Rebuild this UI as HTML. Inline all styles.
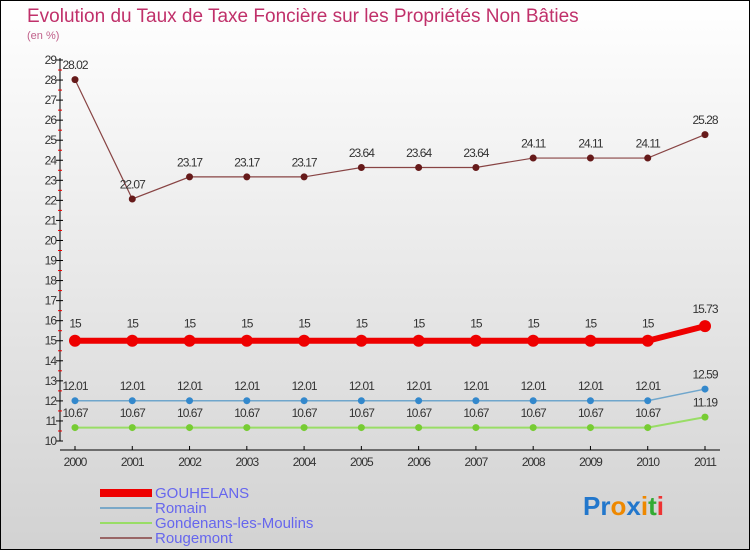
<!DOCTYPE html>
<html><head><meta charset="utf-8"><style>
body{margin:0}
#c{width:750px;height:550px;position:relative;box-sizing:border-box;border:1px solid #000;background:linear-gradient(#ffffff,#d2d2d2);font-family:"Liberation Sans",sans-serif;overflow:hidden}
</style></head><body>
<div id="c">
<svg id="s" width="750" height="550" style="position:absolute;left:-1px;top:-1px">
<text x="27" y="22" font-size="19" fill="#c0306a">Evolution du Taux de Taxe Foncière sur les Propriétés Non Bâties</text>
<text x="27" y="39" font-size="11" fill="#c0608a">(en %)</text>
<g id="axes"></g><g id="series"></g>
<g>
<rect x="100" y="489" width="52" height="8" fill="#ee0000"/>
<text x="155" y="498" font-size="15" fill="#6666ee">GOUHELANS</text>
<rect x="100" y="507" width="52" height="2" fill="#7aa8c8"/>
<text x="155" y="513" font-size="15" fill="#6666ee">Romain</text>
<rect x="100" y="522" width="52" height="2" fill="#99dd66"/>
<text x="155" y="528" font-size="15" fill="#6666ee">Gondenans-les-Moulins</text>
<rect x="100" y="537" width="52" height="2" fill="#996666"/>
<text x="155" y="543" font-size="15" fill="#6666ee">Rougemont</text>
</g>
<text x="583" y="515" font-size="26" font-weight="bold"><tspan fill="#2277cc">Pr</tspan><tspan fill="#ee8800">o</tspan><tspan fill="#2277cc">x</tspan><tspan fill="#ee8800">i</tspan><tspan fill="#33aa33">t</tspan><tspan fill="#ee3333">i</tspan></text>
</svg></div>
<script>
const years=[2000,2001,2002,2003,2004,2005,2006,2007,2008,2009,2010,2011];
const gouhelans=[15,15,15,15,15,15,15,15,15,15,15,15.73];
const romain=[12.01,12.01,12.01,12.01,12.01,12.01,12.01,12.01,12.01,12.01,12.01,12.59];
const gondenans=[10.67,10.67,10.67,10.67,10.67,10.67,10.67,10.67,10.67,10.67,10.67,11.19];
const rougemont=[28.02,22.07,23.17,23.17,23.17,23.64,23.64,23.64,24.11,24.11,24.11,25.28];
const yTicks=[10,11,12,13,14,15,16,17,18,19,20,21,22,23,24,25,26,27,28,29];
const NS="http://www.w3.org/2000/svg";
const X=i=>75+i*(630/11), Y=v=>441-(v-10)*(381/19);
function mk(t,a,p){const e=document.createElementNS(NS,t);for(const k in a)e.setAttribute(k,a[k]);p.appendChild(e);return e;}
const ax=document.getElementById('axes'),sg=document.getElementById('series');
let yl=mk('line',{x1:60,y1:Y(29)-2,x2:60,y2:441,stroke:'#000'},ax);

let xl=mk('line',{x1:60,y1:450,x2:720,y2:450,stroke:'#000'},ax);

yTicks.forEach((v,i)=>{mk('line',{x1:56,y1:Y(v),x2:63,y2:Y(v),stroke:'#000'},ax);
 if(i<yTicks.length-1)mk('line',{x1:58,y1:Y(v+0.5),x2:62,y2:Y(v+0.5),stroke:'#e00'},ax);
 const t=mk('text',{x:56,y:Y(v)+4,'font-size':12,fill:'#333','text-anchor':'end','letter-spacing':'-1'},ax);t.textContent=v;
 });
years.forEach((y,i)=>{mk('line',{x1:X(i),y1:446,x2:X(i),y2:450,stroke:'#000'},ax);
 const t=mk('text',{x:X(i),y:466,'font-size':12,fill:'#333','text-anchor':'middle','letter-spacing':'-1'},ax);t.textContent=y;
 });
function series(d,name,col,dot,w,r,fs){const g=mk('g',{},sg);
 
 mk('polyline',{points:d.map((v,i)=>X(i)+','+Y(v)).join(' '),fill:'none',stroke:col,'stroke-width':w},g);
 d.forEach((v,i)=>{const c=mk('circle',{cx:X(i),cy:Y(v),r:r,fill:dot},g);
  
  const t=mk('text',{x:X(i),y:Y(v)-(r+7),'font-size':fs,fill:'#333','text-anchor':'middle','letter-spacing':'-1'},g);t.textContent=v;
  });}
series(rougemont,'rougemont','#884444','#661a1a',1.2,3.5,12);
series(gondenans,'gondenans','#99dd66','#77cc33',2,3.5,12);
series(romain,'romain','#6fa6cc','#3388cc',1.5,3.5,12);
series(gouhelans,'gouhelans','#ee0000','#ee0000',6,6,12);
</script>
</body></html>
